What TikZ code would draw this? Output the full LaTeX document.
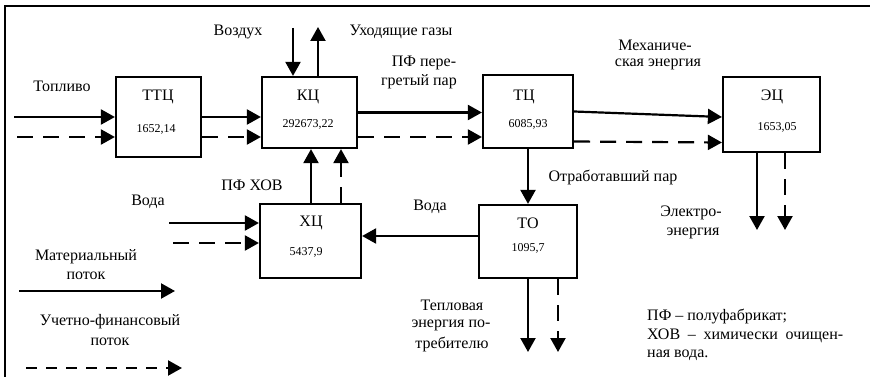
\documentclass[tikz,border=0pt]{standalone}
\usepackage{fontspec}
\setmainfont{Liberation Serif}
\usetikzlibrary{arrows.meta}
\begin{document}
\begin{tikzpicture}[x=1pt,y=-1pt,
  box/.style={draw,line width=2.2pt,inner sep=0pt},
  lbl/.style={font=\fontsize{16}{18}\selectfont,inner sep=0pt},
  num/.style={font=\fontsize{12}{14}\selectfont,inner sep=0pt},
  txt/.style={font=\fontsize{16}{19}\selectfont,inner sep=0pt,align=center},
  flow/.style={line width=2.2pt,-{Triangle[length=14pt,width=15pt]}},
  fin/.style={flow,dash pattern=on 16pt off 10pt},
  finlg/.style={flow,dash pattern=on 11pt off 9pt}]
\useasboundingbox (0,0) rectangle (870,377);
\fill[white] (0,0) rectangle (870,377);
% frame
\draw[line width=2pt] (4.5,380) -- (4.5,6.5) -- (873,6.5);
% boxes
\node[box,minimum width=85pt,minimum height=80pt] (ttc) at (158.5,117) {};
\node[box,minimum width=95pt,minimum height=71pt] (kc) at (309.5,112.5) {};
\node[box,minimum width=90pt,minimum height=73pt] (tc) at (528,111.5) {};
\node[box,minimum width=97pt,minimum height=75pt] (ec) at (771.5,114.5) {};
\node[box,minimum width=101pt,minimum height=74pt] (hc) at (310.5,241) {};
\node[box,minimum width=98pt,minimum height=73pt] (to) at (528,241.5) {};
% box texts
\node[lbl] (ttcL) at (158,97) {ТТЦ};
\node[num] (ttcN) at (156,129) {1652,14};
\node[lbl] (kcL) at (308,97) {КЦ};
\node[num] (kcN) at (308,124) {292673,22};
\node[lbl] (tcL) at (524,97) {ТЦ};
\node[num] (tcN) at (528,124) {6085,93};
\node[lbl] (ecL) at (772,97) {ЭЦ};
\node[num] (ecN) at (777,127) {1653,05};
\node[lbl] (hcL) at (311,223) {ХЦ};
\node[num] (hcN) at (306,252) {5437,9};
\node[lbl] (toL) at (528,223) {ТО};
\node[num] (toN) at (528,248) {1095,7};
% free ends
\coordinate (fuelS) at (14,117);
\coordinate (fuelD) at (17,137);
\coordinate (airS) at (293,28);
\coordinate (gasE) at (318,27);
\coordinate (ecS) at (757,230);
\coordinate (ecD) at (785,230);
\coordinate (toS) at (528,352);
\coordinate (toD) at (558,352);
\coordinate (wS) at (169,223);
\coordinate (wD) at (173,243);
\coordinate (lgS1) at (19,291);
\coordinate (lgS2) at (175,291);
\coordinate (lgD1) at (26,368);
\coordinate (lgD2) at (182,368);
% connectors
\draw[flow] (fuelS) -- (fuelS -| ttc.west);
\draw[fin] (fuelD) -- (fuelD -| ttc.west);
\draw[flow] (ttc.east |- fuelS) -- (kc.west |- fuelS);
\draw[fin] (ttc.east |- fuelD) -- (kc.west |- fuelD);
\draw[flow] (airS) -- (airS |- kc.north);
\draw[flow] (gasE |- kc.north) -- (gasE);
\draw[flow] (kc.east) -- (kc.east -| tc.west);
\draw[fin] (kc.east |- fuelD) -- (tc.west |- fuelD);
\draw[flow] (tc.east) -- ([yshift=-2.5pt]ec.west);
\draw[fin] ([yshift=-30pt]tc.east) -- ([yshift=-28pt]ec.west);
\draw[flow] (tc.south) -- (to.north);
\draw[flow] (ecS |- ec.south) -- (ecS);
\draw[fin] (ecD |- ec.south) -- (ecD);
\draw[flow] (to.south) -- (toS);
\draw[fin] (toD |- to.south) -- (toD);
\draw[flow] ([yshift=5.5pt]to.west) -- ([yshift=5.5pt]to.west -| hc.east);
\draw[flow] ([xshift=0.5pt]hc.north) -- ([xshift=0.5pt]hc.north |- kc.south);
\draw[fin] ([xshift=30.5pt]hc.north) -- ([xshift=30.5pt]hc.north |- kc.south);
\draw[flow] (wS) -- (wS -| hc.west);
\draw[fin] (wD) -- (wD -| hc.west);
\draw[flow] (lgS1) -- (lgS2);
\draw[finlg] (lgD1) -- (lgD2);
% labels
\node[txt] (fuelT) at (62,86) {Топливо};
\node[txt] (airT) at (238,32) {Воздух};
\node[txt] (gasT) at (401,32) {Уходящие газы};
\node[txt] (ppT1) at (424,63) {ПФ пере-};
\node[txt] (ppT2) at (419,82) {гретый пар};
\node[txt] (mechT1) at (655,45) {Механиче-};
\node[txt] (mechT2) at (658,64) {ская энергия};
\node[txt] (steamT) at (613,177) {Отработавший пар};
\node[txt] (hovT) at (252,185) {ПФ ХОВ};
\node[txt] (waterL) at (148,202) {Вода};
\node[txt] (waterR) at (430,207) {Вода};
\node[txt] (elT1) at (691,213) {Электро-};
\node[txt] (elT2) at (693,233) {энергия};
\node[txt] (heatT1) at (452,305) {Тепловая};
\node[txt] (heatT2) at (451,325) {энергия по-};
\node[txt] (heatT3) at (452,344) {требителю};
\node[txt] (lgT1) at (86,257) {Материальный};
\node[txt] (lgT2) at (86,276) {поток};
\node[txt] (lgT3) at (110,322) {Учетно-финансовый};
\node[txt] (lgT4) at (110,342) {поток};
\node[txt,anchor=west] (note1) at (647,316) {ПФ – полуфабрикат;};
\node[txt,anchor=west] (note2) at (647,336) {\makebox[196pt][s]{ХОВ – химически очищен-}};
\node[txt,anchor=west] (note3) at (647,355) {ная вода.};
\end{tikzpicture}
\end{document}
